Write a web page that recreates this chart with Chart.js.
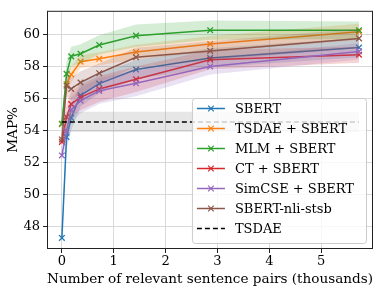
<!DOCTYPE html>
<html>
<head>
<meta charset="utf-8">
<script src="https://cdn.jsdelivr.net/npm/chart.js@4.4.1/dist/chart.umd.min.js"></script>
<style>
  html, body { margin: 0; padding: 0; background: #fff; }
</style>
</head>
<body>
<canvas id="chart" width="381" height="293"></canvas>
<script>
// Number of relevant sentence pairs (thousands)
var pairsK = [0, 0.09, 0.18, 0.36, 0.72, 1.43, 2.86, 5.73];

// MAP% means and spread
var mapSbert  = [47.31, 53.6, 54.8, 56.2, 56.93, 57.81, 58.53, 59.18];
var stdSbert  = [0.2, 0.8, 0.8, 0.7, 0.6, 0.6, 0.6, 0.6];
var mapTsdaeSbert = [54.4, 56.9, 57.5, 58.3, 58.48, 58.9, 59.4, 60.17];
var stdTsdaeSbert = [0.3, 0.6, 0.5, 0.4, 0.4, 0.45, 0.5, 0.5];
var mapMlm    = [54.43, 57.54, 58.63, 58.79, 59.34, 59.92, 60.26, 60.26];
var stdMlm    = [0.3, 0.8, 0.6, 0.6, 0.6, 0.7, 0.6, 0.55];
var mapCt     = [53.3, 54.85, 55.66, 56.07, 56.6, 57.2, 58.42, 58.73];
var stdCt     = [0.3, 0.8, 0.8, 0.8, 0.8, 0.8, 0.6, 0.5];
var mapSimcse = [52.45, 54.0, 55.3, 55.87, 56.48, 56.95, 58.0, 58.94];
var stdSimcse = [0.3, 0.8, 0.8, 0.8, 0.8, 0.8, 0.5, 0.5];
var mapNli    = [53.45, 56.8, 56.6, 57.0, 57.58, 58.57, 58.97, 59.75];
var stdNli    = [0.3, 0.7, 0.7, 0.7, 0.6, 0.6, 0.6, 0.6];

// TSDAE baseline (no labelled pairs), drawn across the range
var tsdaeSpan = [0, 5.73];
var mapTsdae  = [54.54, 54.54];
var stdTsdae  = [0.63, 0.63];

var xTicks = [0, 1, 2, 3, 4, 5];
var yTicks = [48, 50, 52, 54, 56, 58, 60];

var FONT = '"DejaVu Serif", "Liberation Serif", serif';
var TICK_SIZE = 13;
var LEGEND_SIZE = 13;
var TITLE_SIZE = 13.6;

var series = [
    { label: 'SBERT',          xs: pairsK,    map: mapSbert,      std: stdSbert,      color: '31,119,180' },
    { label: 'TSDAE + SBERT',  xs: pairsK,    map: mapTsdaeSbert, std: stdTsdaeSbert, color: '255,127,14' },
    { label: 'MLM + SBERT',    xs: pairsK,    map: mapMlm,        std: stdMlm,        color: '44,160,44' },
    { label: 'CT + SBERT',     xs: pairsK,    map: mapCt,         std: stdCt,         color: '214,39,40' },
    { label: 'SimCSE + SBERT', xs: pairsK,    map: mapSimcse,     std: stdSimcse,     color: '148,103,189' },
    { label: 'SBERT-nli-stsb', xs: pairsK,    map: mapNli,        std: stdNli,        color: '140,86,75' },
    { label: 'TSDAE',          xs: tsdaeSpan, map: mapTsdae,      std: stdTsdae,      color: '0,0,0', band: '128,128,128', dashed: true }
];

function toPoints(xs, ys, std, sign) {
    return xs.map(function(x, i) {
        return { x: x, y: ys[i] + sign * (std ? std[i] : 0) };
    });
}

function buildDatasets() {
    var sets = [];
    series.forEach(function(s) {
        var base = sets.length;
        sets.push({
            data: toPoints(s.xs, s.map, s.std, -1),
            borderWidth: 0, pointRadius: 0, fill: false
        });
        sets.push({
            data: toPoints(s.xs, s.map, s.std, 1),
            borderWidth: 0, pointRadius: 0,
            fill: base,
            backgroundColor: 'rgba(' + (s.band || s.color) + ',0.2)'
        });
        sets.push({
            label: s.label,
            inLegend: true,
            data: toPoints(s.xs, s.map, null, 0),
            borderColor: 'rgb(' + s.color + ')',
            borderWidth: 1.5,
            borderDash: s.dashed ? [5, 3] : [],
            pointStyle: 'crossRot',
            pointRadius: s.dashed ? 0 : 4,
            pointBorderWidth: 1.3,
            pointBorderColor: 'rgb(' + s.color + ')',
            pointBackgroundColor: 'rgb(' + s.color + ')',
            fill: false,
            tension: 0
        });
    });
    // later series on top, like the original plot
    sets.forEach(function(d, i) { d.order = sets.length - i; });
    return sets;
}

function drawLegend(chart) {
    var ctx = chart.ctx;
    var area = chart.chartArea;
    var items = chart.data.datasets.filter(function(d) { return d.inLegend; });

    ctx.font = LEGEND_SIZE + 'px ' + FONT;
    var textW = 0;
    items.forEach(function(d) { textW = Math.max(textW, ctx.measureText(d.label).width); });

    var rowH = 20;
    var w = 43 + textW + 12;
    var h = rowH * items.length + 5;
    var x = area.right - 7 - w;
    var y = area.bottom - 6 - h;

    ctx.beginPath();
    if (ctx.roundRect) ctx.roundRect(x + 0.5, y + 0.5, w, h, 3);
    else ctx.rect(x + 0.5, y + 0.5, w, h);
    ctx.fillStyle = 'rgba(255,255,255,0.8)';
    ctx.fill();
    ctx.strokeStyle = '#cccccc';
    ctx.lineWidth = 1;
    ctx.stroke();

    items.forEach(function(d, i) {
        var cy = y + 10.5 + i * rowH;
        ctx.strokeStyle = d.borderColor;
        ctx.lineWidth = 1.5;
        ctx.setLineDash(d.borderDash);
        ctx.beginPath();
        ctx.moveTo(x + 5, cy);
        ctx.lineTo(x + 33, cy);
        ctx.stroke();
        ctx.setLineDash([]);
        if (d.pointRadius) {
            var r = 2.8, mx = x + 19;
            ctx.lineWidth = 1.2;
            ctx.beginPath();
            ctx.moveTo(mx - r, cy - r); ctx.lineTo(mx + r, cy + r);
            ctx.moveTo(mx - r, cy + r); ctx.lineTo(mx + r, cy - r);
            ctx.stroke();
        }
        ctx.fillStyle = '#000';
        ctx.textBaseline = 'middle';
        ctx.textAlign = 'left';
        ctx.fillText(d.label, x + 43, cy + 1);
    });
}

var framePlugin = {
    id: 'frame',
    afterDatasetsDraw: function(chart) {
        var ctx = chart.ctx;
        var a = chart.chartArea;
        ctx.save();
        ctx.strokeStyle = '#222';
        ctx.lineWidth = 1;
        ctx.strokeRect(a.left + 0.5, a.top + 0.5, a.right - a.left - 1, a.bottom - a.top - 1);
        drawLegend(chart);
        ctx.restore();
    }
};

var tickFont = { family: FONT, size: TICK_SIZE };
var titleFont = { family: FONT, size: TITLE_SIZE };

new Chart(document.getElementById('chart'), {
    type: 'line',
    data: { datasets: buildDatasets() },
    options: {
        responsive: false,
        animation: false,
        layout: { padding: { top: 7, right: 8, left: 0, bottom: 0 } },
        plugins: {
            legend: { display: false },
            tooltip: { enabled: false }
        },
        scales: {
            x: {
                type: 'linear',
                min: -0.287,
                max: 6.0,
                afterFit: function(scale) { scale.height = 44; },
                afterBuildTicks: function(scale) {
                    scale.ticks = xTicks.map(function(v) { return { value: v }; });
                },
                ticks: { font: tickFont, color: '#000', padding: 1, maxRotation: 0 },
                grid: { color: '#d9d9d9', lineWidth: 1, tickColor: '#222', tickLength: 4 },
                border: { display: false },
                title: {
                    display: true,
                    text: 'Number of relevant sentence pairs (thousands)',
                    font: titleFont,
                    color: '#000',
                    padding: { top: 0, bottom: 5 }
                }
            },
            y: {
                min: 46.62,
                max: 61.47,
                afterFit: function(scale) { scale.width = 47; },
                afterBuildTicks: function(scale) {
                    scale.ticks = yTicks.map(function(v) { return { value: v }; });
                },
                ticks: { font: tickFont, color: '#000', padding: 3 },
                grid: { color: '#d9d9d9', lineWidth: 1, tickColor: '#222', tickLength: 4 },
                border: { display: false },
                title: {
                    display: true,
                    text: 'MAP%',
                    font: titleFont,
                    color: '#000',
                    padding: { top: 5, bottom: 0 }
                }
            }
        }
    },
    plugins: [framePlugin]
});
</script>
</body>
</html>
